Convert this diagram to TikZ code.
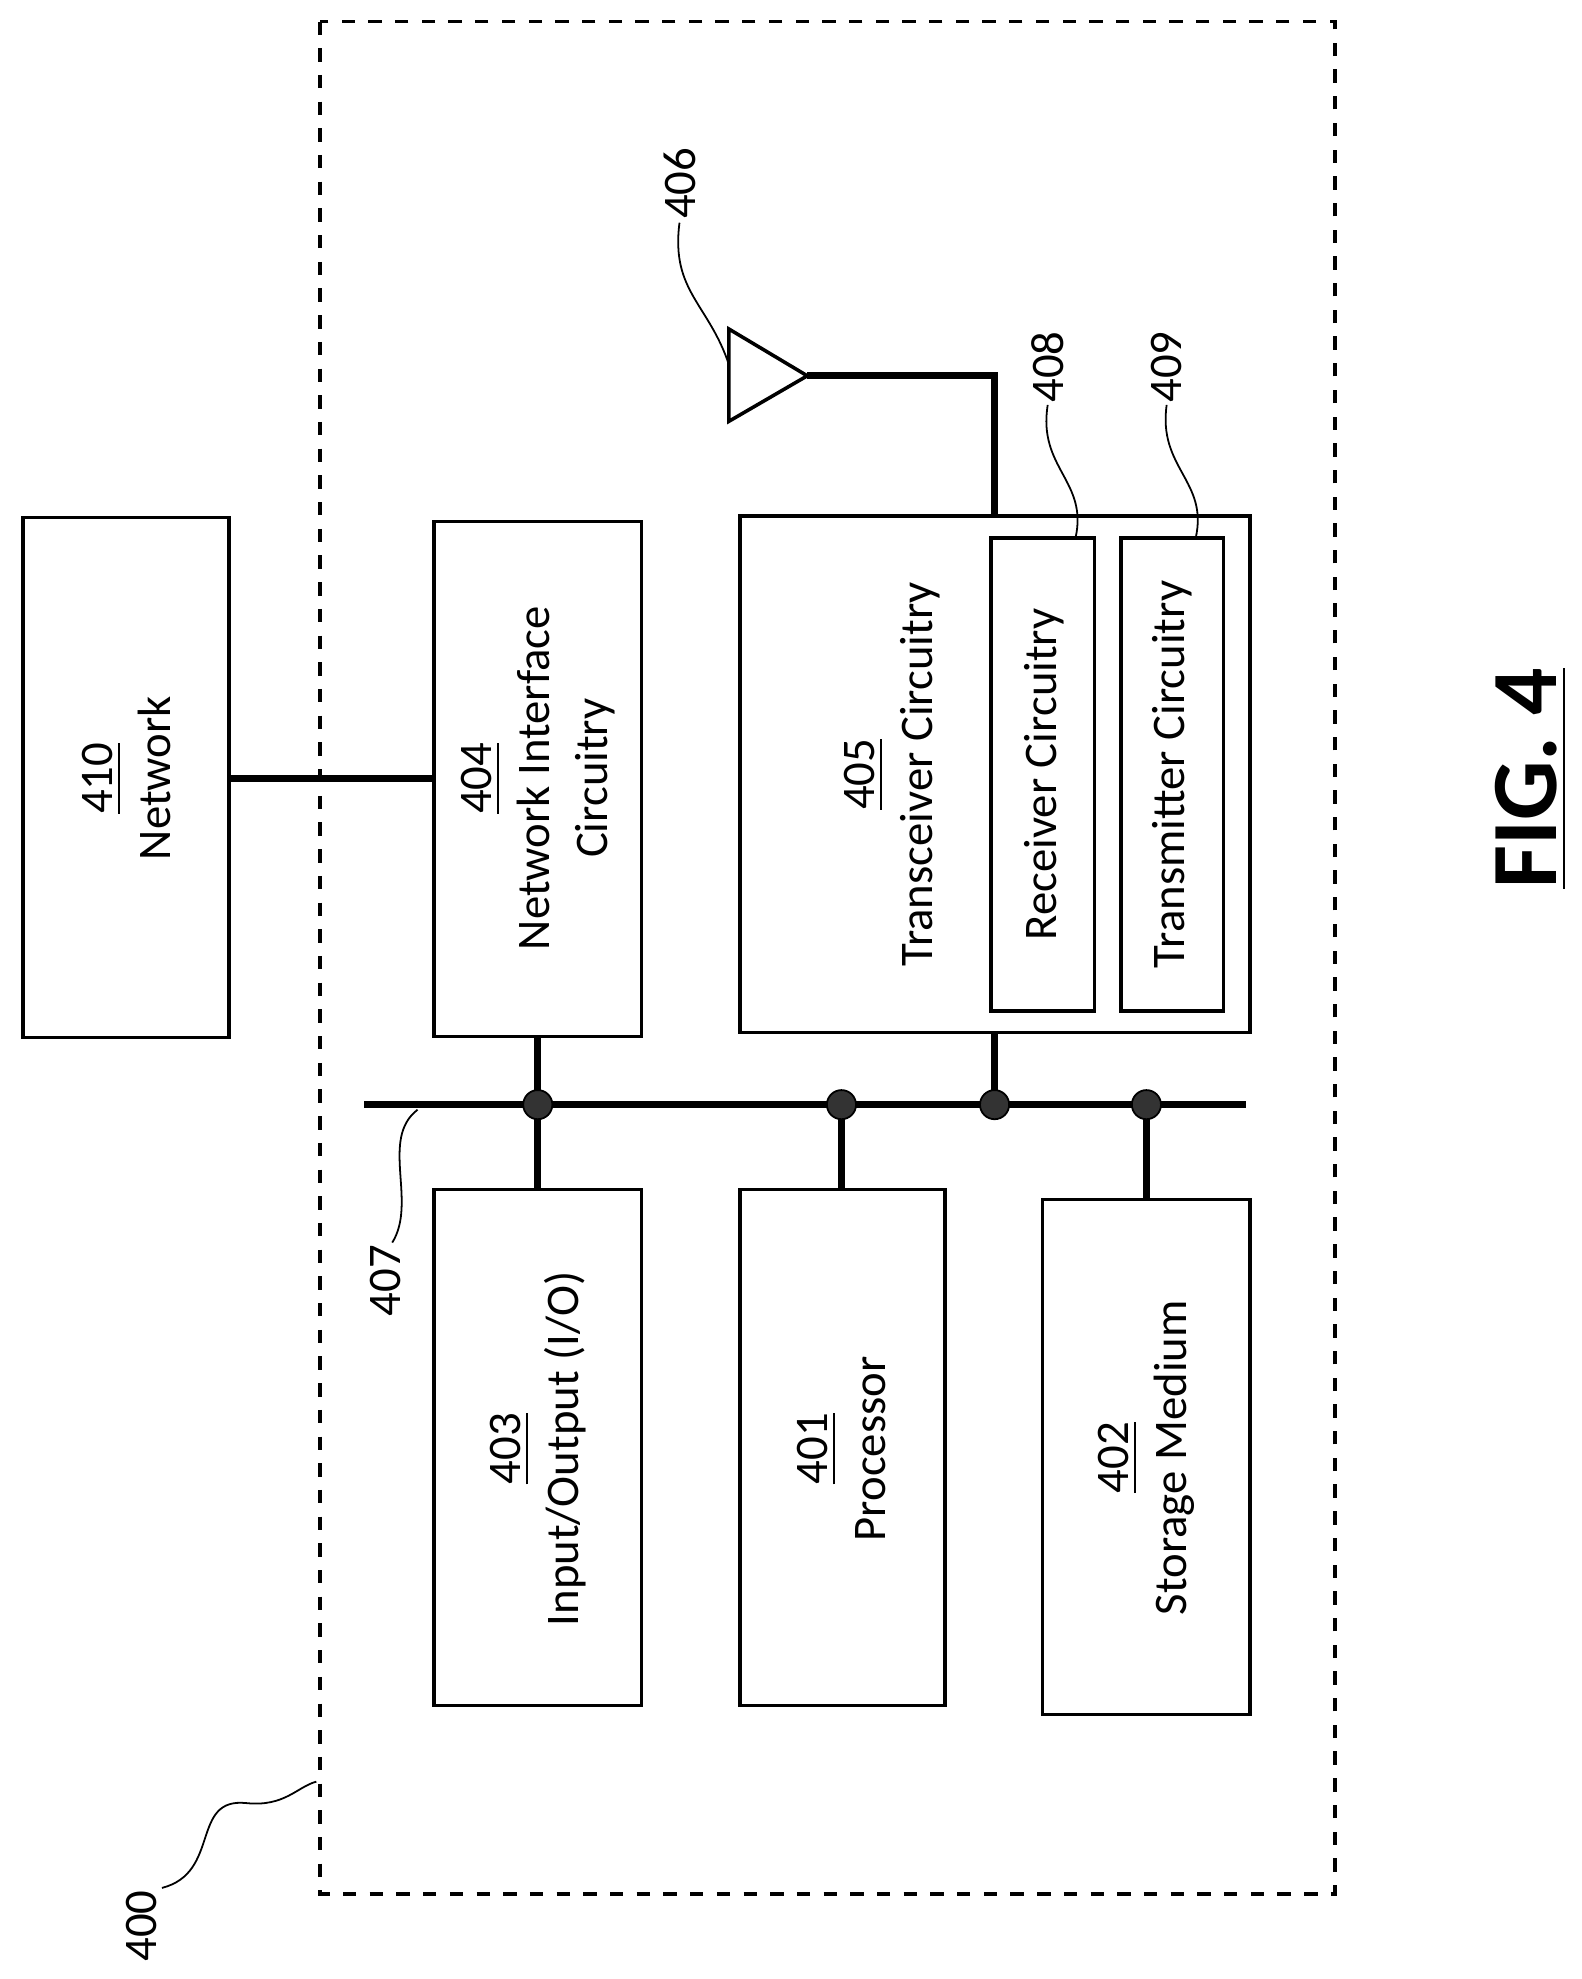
\documentclass[tikz,border=0pt]{standalone}
\usepackage{fontspec}
\setmainfont{Carlito}
\usetikzlibrary{positioning}
\tikzset{
  blk/.style={draw, thick},
  lbl/.style={rotate=90, align=center, font=\fontsize{10.5}{13}\selectfont},
  wire/.style={line width=1.6pt},
  dot/.style={circle, fill=black!80, draw=black, inner sep=0pt, minimum size=0.23cm},
  lead/.style={thin}
}
\begin{document}
\begin{tikzpicture}[x=0.01cm, y=-0.01cm]
    \useasboundingbox (0,0) rectangle (1250,1564);
    % outer device
    \draw[dashed, thick] (253,17) rectangle (1055,1497);

    % blocks
    \draw[blk] (18,409) rectangle (181,820);
    \node[lbl] (net) at (100,615) {\underline{410}\\Network};
    \draw[blk] (343,412) rectangle (507,819);
    \node[lbl] (nic) at (425,615) {\underline{404}\\Network Interface\\Circuitry};
    \draw[blk] (585,408) rectangle (988,816);
    \node[lbl] (trx) at (705,612) {\underline{405}\\Transceiver Circuitry};
    \draw[blk] (783,425) rectangle (865,799);
    \node[lbl] (rx) at (825,612) {Receiver Circuitry};
    \draw[blk] (886,425) rectangle (967,799);
    \node[lbl] (tx) at (926,612) {Transmitter Circuitry};
    \draw[blk] (343,940) rectangle (507,1348);
    \node[lbl] (io) at (425,1145) {\underline{403}\\Input/Output (I/O)};
    \draw[blk] (585,940) rectangle (747,1348);
    \node[lbl] (cpu) at (665,1145) {\underline{401}\\Processor};
    \draw[blk] (824,948) rectangle (988,1355);
    \node[lbl] (mem) at (906,1152) {\underline{402}\\Storage Medium};

    % antenna
    \draw[thick] (576,260) -- (576,333) -- (638,297) -- cycle;
    \draw[wire] (638,297) -- (786,297) -- (786,408);

    % network link
    \draw[wire] (181,615) -- (343,615);

    % bus
    \coordinate (bl) at (288,873);
    \coordinate (br) at (985,873);
    \draw[wire] (bl) -- (br);
    \draw[wire] (425,819) -- (425,940);
    \draw[wire] (665,873) -- (665,940);
    \draw[wire] (786,816) -- (786,873);
    \draw[wire] (906,873) -- (906,948);
    \foreach \x in {425,665,786,906}
      \node[dot] at (\x,873) {};

    % reference numerals
    \node[lbl] (n407) at (305,1012) {407};
    \draw[lead] (330,877) .. controls (300,900) and (330,950) .. (310,982);
    \node[lbl] (n406) at (537,145) {406};
    \draw[lead] (537,176) .. controls (530,230) and (560,240) .. (576,288);
    \node[lbl] (n408) at (828,290) {408};
    \draw[lead] (828,320) .. controls (820,370) and (860,380) .. (850,425);
    \node[lbl] (n409) at (922,290) {409};
    \draw[lead] (922,320) .. controls (915,370) and (955,380) .. (945,425);
    \node[lbl] (n400) at (112,1522) {400};
    \draw[lead] (128,1492) .. controls (175,1480) and (150,1420) .. (195,1425)
      .. controls (225,1428) and (235,1412) .. (250,1408);

    \node[rotate=90, font=\fontsize{21}{25}\selectfont\bfseries] (fig) at (1210,615) {\underline{FIG. 4}};
\end{tikzpicture}
\end{document}
